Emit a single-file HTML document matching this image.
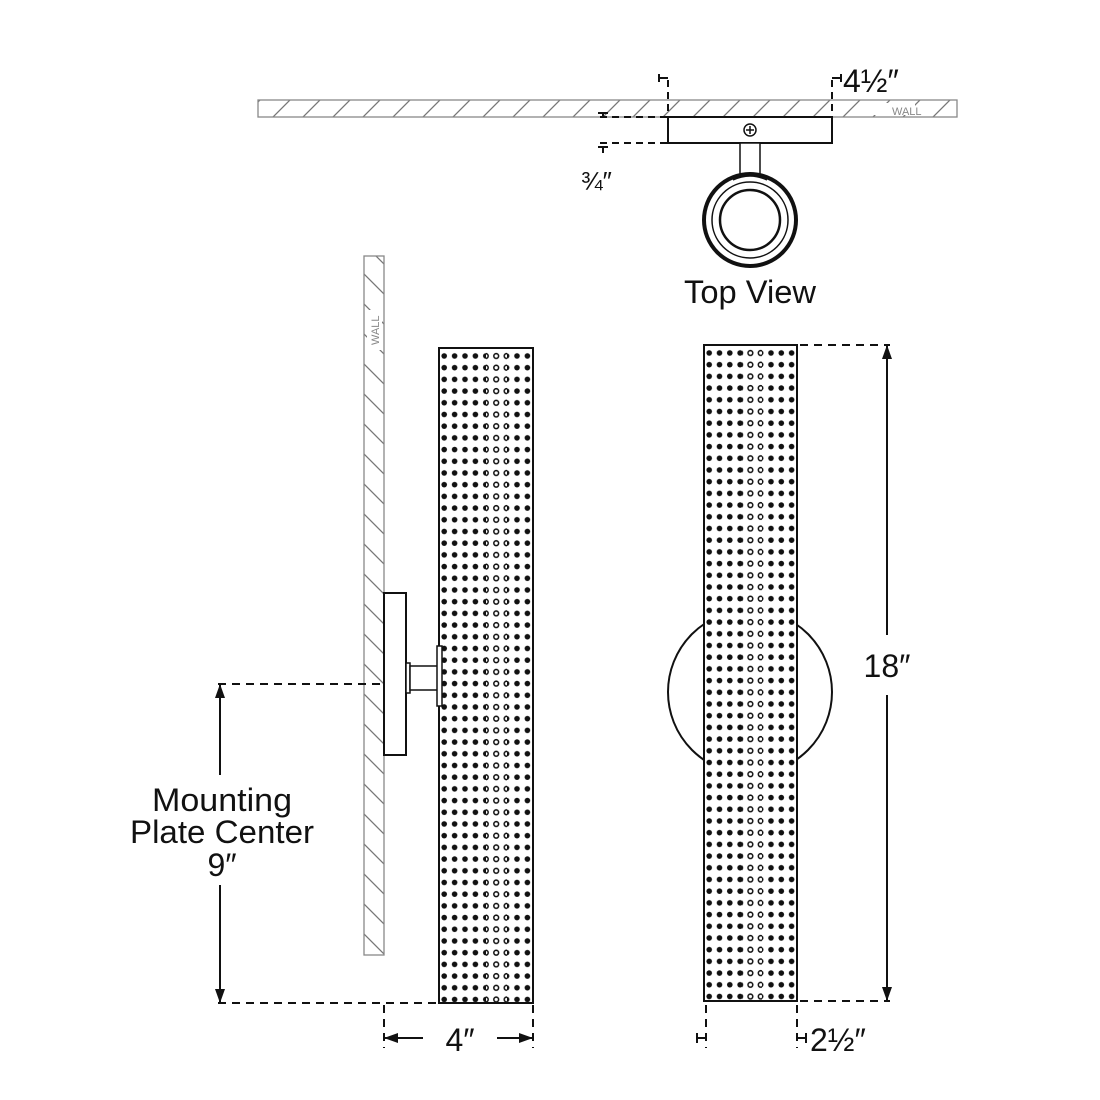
<!DOCTYPE html>
<html><head><meta charset="utf-8"><style>html,body{margin:0;padding:0;background:#fff}svg{display:block}</style></head>
<body>
<svg width="1100" height="1100" viewBox="0 0 1100 1100" xmlns="http://www.w3.org/2000/svg" font-family="Liberation Sans, sans-serif">
<defs>
<pattern id="hatch" patternUnits="userSpaceOnUse" width="30" height="30">
<line x1="0" y1="30" x2="30" y2="0" stroke="#777" stroke-width="1.3"/>
</pattern>
<pattern id="hatch2" patternUnits="userSpaceOnUse" width="30" height="30">
<line x1="0" y1="0" x2="30" y2="30" stroke="#777" stroke-width="1.3"/>
</pattern>
<pattern id="dots" patternUnits="userSpaceOnUse" x="439" y="350" width="10.4" height="11.7">
<circle cx="5.2" cy="6" r="2.8" fill="#111"/>
</pattern>
<pattern id="dots2" patternUnits="userSpaceOnUse" x="704" y="347" width="10.3" height="11.7">
<circle cx="5.2" cy="6" r="2.8" fill="#111"/>
</pattern>
<pattern id="hol" patternUnits="userSpaceOnUse" x="439" y="350" width="10.4" height="11.7">
<circle cx="5.2" cy="6" r="2.4" fill="#fff" stroke="#111" stroke-width="1.5"/>
</pattern>
<pattern id="hol2" patternUnits="userSpaceOnUse" x="704" y="347" width="10.3" height="11.7">
<circle cx="5.2" cy="6" r="2.4" fill="#fff" stroke="#111" stroke-width="1.5"/>
</pattern>
</defs>
<g stroke="#111" fill="none" stroke-width="2">
<rect x="258" y="100" width="699" height="17" fill="url(#hatch)" stroke="#888" stroke-width="1.3"/>
<rect x="860" y="103" width="55" height="12" fill="#fff" stroke="none"/>
<rect x="668" y="117" width="164" height="26" fill="#fff"/>
<circle cx="750" cy="130" r="6" stroke-width="1.5"/>
<path d="M746 130h8M750 126v8" stroke-width="1.5"/>
<rect x="740" y="143" width="20" height="32" stroke-width="1.5" fill="#fff"/>
<circle cx="750" cy="220" r="46" stroke-width="4" fill="#fff"/>
<circle cx="750" cy="220" r="38" stroke-width="1.5"/>
<circle cx="750" cy="220" r="30" stroke-width="2.5"/>
<path d="M733 180 q17 -8 34 0" stroke-width="1.5"/>
<g stroke-dasharray="7,5" stroke-width="2">
<path d="M668 80V117M832 80V117M600 117H668M600 143H668"/>
</g>
<path d="M659 78H668M659 74v8M832 78H841M841 74v8M603 112v5M598 113h10M603 148v5M598 147h10" stroke-width="2"/>
<rect x="364" y="256" width="20" height="699" fill="url(#hatch2)" stroke="#888" stroke-width="1.3"/>
<rect x="367" y="310" width="15" height="40" fill="#fff" stroke="none"/>
<rect x="439" y="348" width="94" height="655" fill="url(#dots)"/>
<rect x="486" y="349" width="21" height="653" fill="#fff" stroke="none"/>
<rect x="486" y="349" width="21" height="653" fill="url(#hol)" stroke="none"/>
<rect x="439" y="348" width="94" height="655"/>
<rect x="384" y="593" width="22" height="162" fill="#fff"/>
<rect x="406" y="663" width="4" height="30" stroke-width="1.5" fill="#fff"/>
<rect x="410" y="666" width="28" height="24" stroke-width="1.5" fill="#fff"/>
<rect x="437" y="646" width="5" height="60" stroke-width="1.5" fill="#fff"/>
<circle cx="750" cy="692" r="82" stroke-width="2"/>
<rect x="704" y="345" width="93" height="656" fill="#fff" stroke="none"/>
<rect x="704" y="345" width="93" height="656" fill="url(#dots2)" stroke="none"/>
<rect x="742" y="346" width="20" height="654" fill="#fff" stroke="none"/>
<rect x="742" y="346" width="20" height="654" fill="url(#hol2)" stroke="none"/>
<rect x="704" y="345" width="93" height="656"/>
<g stroke-dasharray="8,6" stroke-width="2">
<path d="M218 684H384M218 1003H439M384 1005V1048M533 1005V1048M800 345H890M800 1001H890M706 1005V1048M797 1005V1048"/>
</g>
<path d="M220 684V775M220 885V1003" stroke-width="2"/>
<path d="M887 345V635M887 695V1001" stroke-width="2"/>
<path d="M384 1038H423M497 1038H533" stroke-width="2"/>
<path d="M697 1038H706M697 1033v10M797 1038H806M806 1033v10" stroke-width="2"/>
</g>
<g fill="#111">
<path d="M215 698L220 684L225 698ZM215 989L220 1003L225 989ZM882 359L887 345L892 359ZM882 987L887 1001L892 987ZM398 1033L384 1038L398 1043ZM519 1033L533 1038L519 1043Z"/>
<text x="892" y="115" font-size="11" fill="#888">WALL</text>
<text x="379" y="345" font-size="11" fill="#888" transform="rotate(-90 379 345)">WALL</text>
<text x="843" y="92" font-size="32">4½″</text>
<text x="581" y="190" font-size="26">¾″</text>
<text x="750" y="303" font-size="32" text-anchor="middle" textLength="132" lengthAdjust="spacingAndGlyphs">Top View</text>
<text x="222" y="811" font-size="32" text-anchor="middle" textLength="140" lengthAdjust="spacingAndGlyphs">Mounting</text>
<text x="222" y="843" font-size="32" text-anchor="middle" textLength="184" lengthAdjust="spacingAndGlyphs">Plate Center</text>
<text x="222" y="876" font-size="32" text-anchor="middle">9″</text>
<text x="887" y="677" font-size="32" text-anchor="middle">18″</text>
<text x="460" y="1051" font-size="32" text-anchor="middle">4″</text>
<text x="810" y="1051" font-size="32">2½″</text>
</g>
</svg>
</body></html>
